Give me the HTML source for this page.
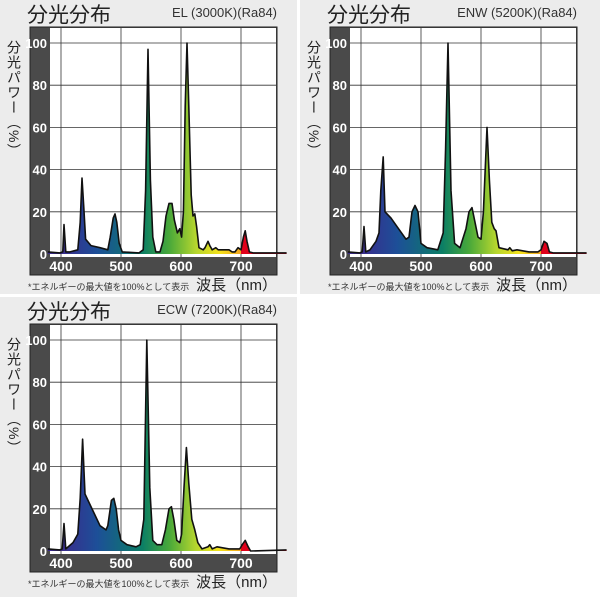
<!DOCTYPE html>
<html><head><meta charset="utf-8">
<style>
html,body{margin:0;padding:0;background:#fff;}
svg{display:block;font-family:"Liberation Sans","Noto Sans CJK JP",sans-serif;}
</style></head>
<body>
<svg id="root" width="600" height="597" viewBox="0 0 600 597" xmlns="http://www.w3.org/2000/svg">
<defs>
<linearGradient id="spec" gradientUnits="userSpaceOnUse" x1="61" y1="0" x2="241" y2="0">
<stop offset="0" stop-color="#3a2a8c"/>
<stop offset="0.2" stop-color="#1d4f98"/>
<stop offset="0.45" stop-color="#0b7e66"/>
<stop offset="0.6" stop-color="#48a83a"/>
<stop offset="0.75" stop-color="#b6d62e"/>
<stop offset="0.88" stop-color="#f4e21c"/>
<stop offset="1.0" stop-color="#f2a51e"/>
<stop offset="1.2" stop-color="#e95012"/>
<stop offset="1.45" stop-color="#e0101a"/>
<stop offset="1.8" stop-color="#e0001a"/>
</linearGradient>
</defs>
</svg>
<script>
// Panel 1: EL (3000K)
const waves1 = [378,398,403,405,408,415,428,432,435,438,441,450,465,478,482,487,490,493,497,502,530,537,541,545,549,553,558,565,570,575,580,585,589,594,598,601,604,607,610,613,617,620,623,626,630,637,640,645,648,652,658,662,670,680,685,690,695,700,704,707,710,714,720,776];
const vals1  = [1,0.5,1,14,1,1,2,15,36,22,7,4,3,2,8,17,19,15,5,1,0.5,2,30,97,35,8,1,1,6,18,24,24,16,10,12,8,20,70,100,70,28,18,19,13,3,2,3,6,4,2,3,2,2,2,1,1,3,2,8,11,6,1,0.5,0.5];
// Panel 2: ENW (5200K)
const waves2 = [378,398,402,405,408,415,425,430,433,437,440,450,460,475,480,485,490,495,500,510,528,537,541,545,550,556,565,575,580,585,590,595,600,604,610,614,618,622,625,630,645,648,652,660,680,695,700,705,710,714,720,776];
const vals2  = [1,0.5,1,13,1,2,6,10,30,46,20,17,13,7,8,20,23,20,5,3,2,10,50,100,30,5,3,12,20,22,15,8,7,20,60,35,15,12,11,3,2,3,1.5,2,1,1,2,6,5,1,0.5,0.5];
// Panel 3: ECW (7200K)
const waves3 = [378,398,402,405,408,420,428,432,436,440,445,455,465,475,478,484,488,492,496,500,510,525,532,538,543,548,553,560,568,574,580,584,588,593,598,601,605,609,613,618,623,628,635,645,648,652,660,680,698,702,707,712,716,776];
const vals3  = [1,0.5,1,13,1,4,8,25,53,27,24,18,12,10,12,24,25,20,10,5,3,2,3,15,100,30,5,3,3,10,20,21,15,5,4,8,30,49,32,15,10,4,1,2,3,1,2,1,1,3,5,2,0,0.5];
const yTicks = [0,20,40,60,80,100];
const xTicks = [400,500,600,700];
const models = ["EL (3000K)(Ra84)","ENW (5200K)(Ra84)","ECW (7200K)(Ra84)"];

const NS = "http://www.w3.org/2000/svg";
const root = document.getElementById('root');
function mk(tag, attrs, parent){ const e=document.createElementNS(NS,tag); for(const k in attrs) e.setAttribute(k,attrs[k]); (parent||root).appendChild(e); return e; }
const xScale = nm => 61 + (nm-400)*0.6;
const yScale = v => 254 - v*2.11;

function panel(ox, oy, pw, ph, waves, vals, model, idx){
  const g = mk('g',{transform:`translate(${ox},${oy})`});
  
  
  const bg = mk('rect',{x:0,y:0,width:pw,height:ph,fill:'#ececec'},g);
  
  
  const t = mk('text',{x:27,y:22,'font-size':21,fill:'#222'},g); t.textContent='分光分布';
  
  
  const m = mk('text',{x:277,y:17,'font-size':13,fill:'#333','text-anchor':'end'},g); m.textContent=model;
  
  
  const frame = mk('rect',{x:30,y:27,width:247,height:248,fill:'#4a4a4a',stroke:'#222','stroke-width':1},g);
  
  
  const area = mk('rect',{x:50,y:28,width:226,height:229,fill:'#fff'},g);
  
  
  yTicks.forEach(v=>{
    const y=yScale(v);
    if(v>0){ const l=mk('line',{x1:50,x2:276,y1:y,y2:y,stroke:'#333','stroke-width':0.8},g);
      
       }
    const tl=mk('text',{x:47,y:y+5,'font-size':13,'font-weight':'bold',fill:'#fff','text-anchor':'end'},g); tl.textContent=v;
    
    
  });
  xTicks.forEach(v=>{
    const x=xScale(v);
    const l=mk('line',{x1:x,x2:x,y1:28,y2:257,stroke:'#333','stroke-width':0.8},g);
    
    
    const tl=mk('text',{x:x,y:271,'font-size':14,'font-weight':'bold',fill:'#fff','text-anchor':'middle'},g); tl.textContent=v;
    
    
  });
  let d = `M${xScale(waves[0])},${yScale(0)}`;
  waves.forEach((w,i)=>{ d += ` L${xScale(w).toFixed(1)},${yScale(vals[i]).toFixed(1)}`; });
  d += ` L${xScale(waves[waves.length-1])},${yScale(0)} Z`;
  const fill = mk('path',{d:d,fill:'url(#spec)',stroke:'none'},g);
  
  
  let ld = '';
  waves.forEach((w,i)=>{ ld += (i?' L':'M')+xScale(w).toFixed(1)+','+yScale(vals[i]).toFixed(1); });
  const line = mk('path',{d:ld,fill:'none',stroke:'#111','stroke-width':1.6,'stroke-linejoin':'round'},g);
  
  
  const yl = mk('text',{x:14,y:40,'font-size':14,fill:'#222','writing-mode':'tb','glyph-orientation-vertical':0,'letter-spacing':1},g);
  yl.textContent='分光パワー（%）';
  
  
  const fn = mk('text',{x:28,y:290,'font-size':9,fill:'#333'},g); fn.textContent='*エネルギーの最大値を100%として表示';
  
  
  const xl = mk('text',{x:277,y:290,'font-size':15,fill:'#222','text-anchor':'end'},g); xl.textContent='波長（nm）';
  
  
}
panel(0,0,297,294,waves1,vals1,models[0],1);
panel(300,0,300,294,waves2,vals2,models[1],2);
panel(0,297,297,300,waves3,vals3,models[2],3);
</script>
</body></html>
